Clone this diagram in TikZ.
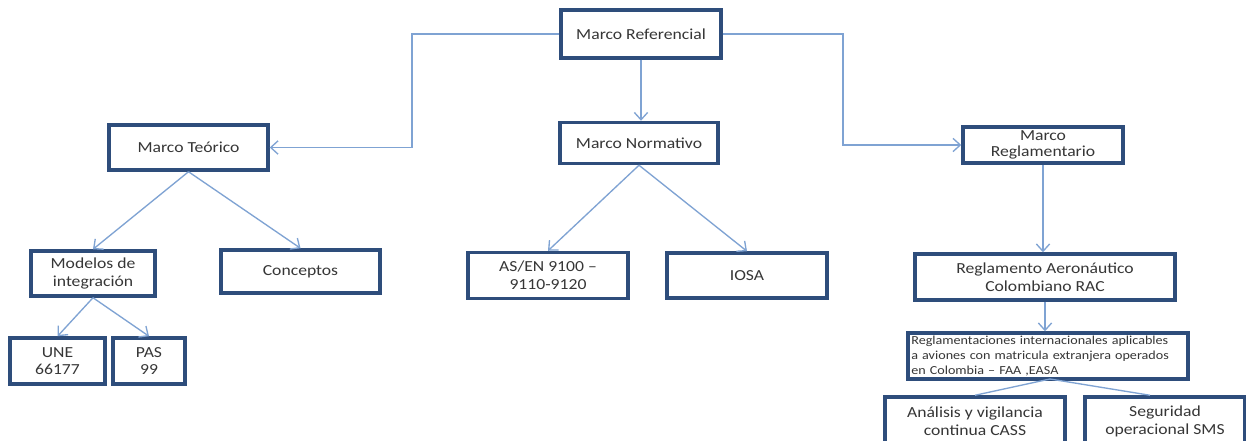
\documentclass[tikz,border=0pt]{standalone}
\usepackage{fontspec}
\setmainfont{Carlito}[FakeStretch=1.15]
\usetikzlibrary{arrows.meta,calc}
\definecolor{boxblue}{HTML}{2E4D7B}
\definecolor{linkblue}{HTML}{7FA3D3}
\definecolor{txt}{HTML}{363636}
\begin{document}
\begin{tikzpicture}[x=0.75pt,y=-0.75pt,
  box/.style={draw=boxblue,line width=2.6pt,fill=white,text=txt,align=center,inner sep=1pt,font=\fontsize{11.5}{13.5}\selectfont},
  conn/.style={draw=linkblue,line width=1pt,-{Straight Barb[length=5.5pt,width=10pt]}},
  plain/.style={draw=linkblue,line width=1pt}]
\useasboundingbox (0,0) rectangle (1246,441);
\fill[white] (0,0) rectangle (1246,441);
% nodes
\node[box,minimum width=120pt,minimum height=36pt] (ref) at (641,34) {Marco Referencial};
\node[box,minimum width=119.25pt,minimum height=33.75pt] (teo) at (188.5,147.5) {Marco Teórico};
\node[box,minimum width=118.5pt,minimum height=30.75pt] (norm) at (639,143) {Marco Normativo};
\node[box,minimum width=120pt,minimum height=27pt,font=\fontsize{11.5}{11.5}\selectfont] (regl) at (1043,145) {Marco\\Reglamentario};
\node[box,minimum width=93pt,minimum height=33.75pt] (mod) at (93,273.5) {Modelos de\\integración};
\node[box,minimum width=119.25pt,minimum height=32.25pt] (con) at (300.5,271.5) {Conceptos};
\node[box,minimum width=120pt,minimum height=34.5pt] (asen) at (548,275.5) {AS/EN 9100 –\\9110-9120};
\node[box,minimum width=120pt,minimum height=33.75pt] (iosa) at (747,275.5) {IOSA};
\node[box,minimum width=195pt,minimum height=34.5pt] (rac) at (1045,277) {Reglamento Aeronáutico\\Colombiano RAC};
\node[box,minimum width=210pt,minimum height=34.5pt,align=left,text width=205pt,inner sep=1.5pt,font=\fontsize{9.2}{11.25}\selectfont] (intl) at (1048,356) {Reglamentaciones internacionales aplicables\\a aviones con matricula extranjera operados\\en Colombia – FAA ,EASA};
\node[box,minimum width=135pt,minimum height=36pt] (cass) at (975,421) {Análisis y vigilancia\\continua CASS};
\node[box,minimum width=120pt,minimum height=36pt] (sms) at (1165,421) {Seguridad\\operacional SMS};
\node[box,minimum width=71.25pt,minimum height=34.5pt,font=\fontsize{11.5}{12.5}\selectfont] (une) at (57.5,361) {UNE\\66177};
\node[box,minimum width=54pt,minimum height=34.5pt,font=\fontsize{11.5}{12.5}\selectfont] (pas) at (149,361) {PAS\\99};
% connectors
\coordinate (c1) at (412,34);
\coordinate (c2) at (843,34);
\coordinate (c3) at (1050,379);
\draw[conn] (ref.west) -- (c1) |- (teo.east);
\draw[conn] (ref.east) -- (c2) |- (regl.west);
\draw[conn] (ref.south) -- (ref.south |- norm.north);
\draw[conn] (teo.south) -- (mod.north);
\draw[conn] (teo.south) -- (con.north);
\draw[conn] (norm.south) -- (asen.north);
\draw[conn] (norm.south) -- (iosa.north);
\draw[conn] (regl.south) -- (regl.south |- rac.north);
\draw[conn] (rac.south) -- (rac.south |- intl.north);
\draw[conn] (mod.south) -- (une.north);
\draw[conn] (mod.south) -- (pas.north);
\draw[plain] (c3) -- (cass.north);
\draw[plain] (c3) -- ($(sms.north)+(-15,0)$);
\end{tikzpicture}
\end{document}
